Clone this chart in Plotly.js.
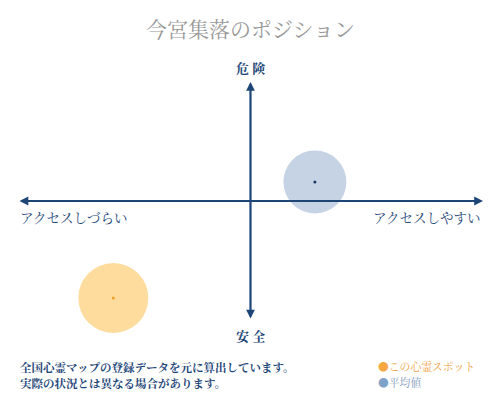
<!DOCTYPE html>
<html>
<head>
<meta charset="utf-8">
<script src="https://cdn.plot.ly/plotly-3.0.1.min.js"></script>
<style>
  body { margin: 0; background: #fff; }
  #chart { width: 500px; height: 400px; }
</style>
</head>
<body>
<div id="chart"></div>
<script>
// positions on the two axes: x = access (-1 hard .. 1 easy), y = danger (-1 safe .. 1 dangerous)
const seriesNames = ['この心霊スポット', '平均値']
const accessVals = [-0.59, 0.277]
const dangerVals = [-0.815, 0.16]
const bubbleColors = ['rgba(254,196,90,0.85)', 'rgba(140,168,204,0.72)']
const dotColors = ['#f0a030', '#1a3a60']
const bubbleSizes = [70, 63]

const axisLabels = { top: '危 険', bottom: '安 全', left: 'アクセスしづらい', right: 'アクセスしやすい' }
const noteLines = ['全国心霊マップの登録データを元に算出しています。', '実際の状況とは異なる場合があります。']

const navy = '#1d4677'
const font = '"Noto Serif CJK JP", "Noto Sans CJK JP", serif'

const traces = [
  {
    x: accessVals, y: dangerVals,
    type: 'scatter', mode: 'markers',
    marker: { size: bubbleSizes, color: bubbleColors, line: { width: 0 } },
    hoverinfo: 'skip', cliponaxis: false
  },
  {
    x: accessVals, y: dangerVals,
    type: 'scatter', mode: 'markers',
    marker: { size: 3, color: dotColors },
    hoverinfo: 'skip', cliponaxis: false
  }
]

const arrow = { xref: 'x', yref: 'y', axref: 'x', ayref: 'y', showarrow: true, arrowside: 'end+start',
  arrowhead: 2, arrowsize: 0.8, arrowwidth: 2.2, arrowcolor: navy, text: '' }

const annotations = [
  Object.assign({ x: 1, y: 0, ax: -1, ay: 0 }, arrow),
  Object.assign({ x: 0, y: 1, ax: 0, ay: -1 }, arrow),
  { x: 0, y: 1, xref: 'x', yref: 'y', yshift: 15, showarrow: false, text: '<b>' + axisLabels.top + '</b>',
    font: { family: font, size: 13, color: navy }, yanchor: 'middle' },
  { x: 0, y: -1, xref: 'x', yref: 'y', yshift: -15, showarrow: false, text: '<b>' + axisLabels.bottom + '</b>',
    font: { family: font, size: 13, color: navy }, yanchor: 'middle' },
  { x: -1, y: 0, xref: 'x', yref: 'y', yshift: -16, showarrow: false, text: axisLabels.left,
    xanchor: 'left', yanchor: 'middle', font: { family: font, size: 13.5, color: navy } },
  { x: 1, y: 0, xref: 'x', yref: 'y', yshift: -16, showarrow: false, text: axisLabels.right,
    xanchor: 'right', yanchor: 'middle', font: { family: font, size: 13.5, color: navy } }
]

noteLines.forEach((line, i) => {
  annotations.push({
    x: 0, y: -0.197 - i * 0.067, xref: 'paper', yref: 'paper', xanchor: 'left', yanchor: 'middle',
    showarrow: false, text: '<b>' + line + '</b>', font: { family: font, size: 11.5, color: navy }
  })
})

const legendText = ['#f0a040', '#7f9cc0']
const legendDot = ['#f5a742', '#7fa3c8']
seriesNames.forEach((name, i) => {
  annotations.push({
    x: 0.77, y: -0.197 - i * 0.067, xref: 'paper', yref: 'paper', xanchor: 'left', yanchor: 'middle',
    showarrow: false,
    text: '<span style="color:' + legendDot[i] + '">●</span>' + name,
    font: { family: font, size: 10.8, color: legendText[i] }
  })
})

const layout = {
  width: 500, height: 400,
  margin: { l: 18, r: 17, t: 82, b: 80 },
  paper_bgcolor: '#fff', plot_bgcolor: '#fff',
  showlegend: false,
  title: {
    text: '今宮集落のポジション',
    x: 0.5, xref: 'paper', y: 0.925, yref: 'container', yanchor: 'middle',
    font: { family: font, size: 21, color: '#999' }
  },
  xaxis: { range: [-1, 1], visible: false, fixedrange: true },
  yaxis: { range: [-1, 1], visible: false, fixedrange: true },
  annotations: annotations
}

Plotly.newPlot('chart', traces, layout, { displayModeBar: false, staticPlot: true })
</script>
</body>
</html>
